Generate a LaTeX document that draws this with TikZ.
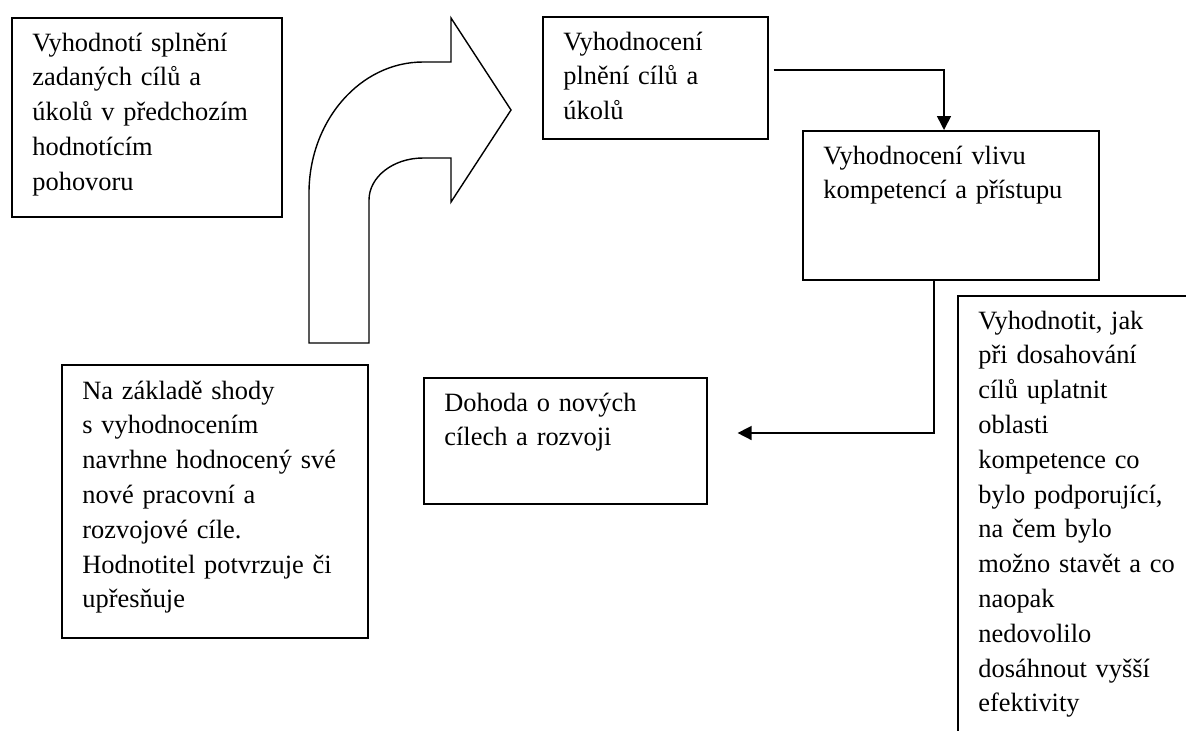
\documentclass[tikz,border=0pt]{standalone}
\usepackage{fontspec}
\setmainfont{Liberation Serif}
\usetikzlibrary{arrows.meta,calc}
\newlength\pxu
\setlength\pxu{0.5pt}
\tikzset{
  box/.style={draw=black, line width=0.8pt, rectangle, inner sep=0pt, anchor=north west},
  txt/.style={inner sep=0pt, align=left, text width=330\pxu, anchor=base west,
              font=\fontsize{13.2pt}{17.4pt}\selectfont},
  conn/.style={draw=black, line width=0.8pt, -{Triangle[length=7pt,width=7pt]}},
  bent/.style={draw=black, line width=0.7pt, line join=miter, fill=white}
}
\begin{document}
\begin{tikzpicture}[x=0.5pt,y=-0.5pt]
\clip (0,0) rectangle (1186,730);
\fill[white] (0,0) rectangle (1186,730);

% boxes
\node[box, minimum width=270\pxu, minimum height=199\pxu] (b1) at (11,17) {};
\node[box, minimum width=225\pxu, minimum height=122\pxu] (b2) at (542,16) {};
\node[box, minimum width=296\pxu, minimum height=149\pxu] (b3) at (802,130) {};
\node[box, minimum width=283\pxu, minimum height=126\pxu] (b4) at (423,377) {};
\node[box, minimum width=306\pxu, minimum height=273\pxu] (b6) at (61,364) {};
\node[box, minimum width=260\pxu, minimum height=460\pxu] (b5) at (957,295) {};

% texts
\node[txt] (t1) at ($(b1.north west)+(21,34)$) {Vyhodnotí splnění\\zadaných cílů a\\úkolů v předchozím\\hodnotícím\\pohovoru};
\node[txt] (t2) at ($(b2.north west)+(21,34)$) {Vyhodnocení\\plnění cílů a\\úkolů};
\node[txt] (t3) at ($(b3.north west)+(21,34)$) {Vyhodnocení vlivu\\kompetencí a přístupu};
\node[txt] (t4) at ($(b4.north west)+(21,34)$) {Dohoda o nových\\cílech a rozvoji};
\node[txt] (t6) at ($(b6.north west)+(21,35)$) {Na základě shody\\s vyhodnocením\\navrhne hodnocený své\\nové pracovní a\\rozvojové cíle.\\Hodnotitel potvrzuje či\\upřesňuje};
\node[txt] (t5) at ($(b5.north west)+(21,34)$) {Vyhodnotit, jak\\při dosahování\\cílů uplatnit\\oblasti\\kompetence co\\bylo podporující,\\na čem bylo\\možno stavět a co\\naopak\\nedovolilo\\dosáhnout vyšší\\efektivity};

% bent arrow
\path[bent] (309,343) -- (369,343) -- (369,200)
  .. controls (369,177) and (393,158) .. (423,158)
  -- (451,158) -- (451,202) -- (511,110) -- (451,18) -- (451,62) -- (423,62)
  .. controls (360,62) and (309,121) .. (309,193) -- cycle;

% connectors
\coordinate (s1) at ($(b2.north east)+(5,54)$);
\coordinate (e1) at ($(b3.north west)+(142,0)$);
\draw[conn] (s1) -| (e1);
\coordinate (s2) at ($(b3.south west)+(132,0)$);
\coordinate (e2) at ($(b4.north east)+(30,56)$);
\draw[conn] (s2) |- (e2);
\end{tikzpicture}
\end{document}
